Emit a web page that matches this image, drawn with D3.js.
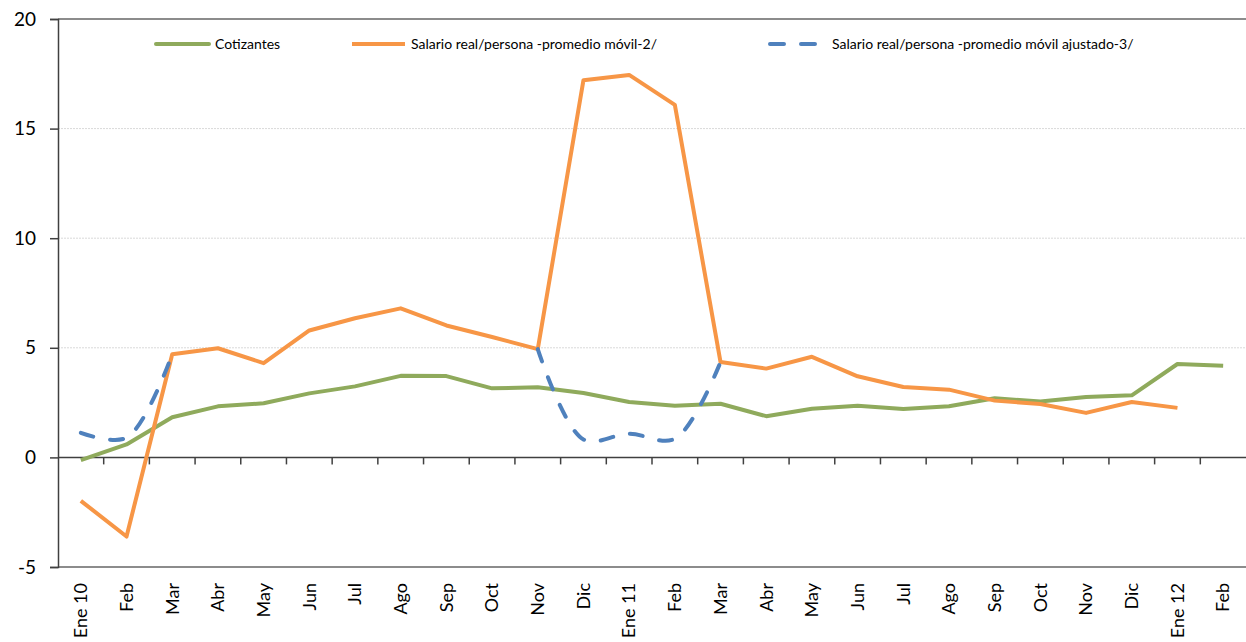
<!DOCTYPE html>
<html>
<head>
<meta charset="utf-8">
<script src="https://cdn.jsdelivr.net/npm/d3@7"></script>
<style>
    body { margin: 0; background: #fff; }
    text { font-family: Lato, "Open Sans", sans-serif; fill: #000; }
</style>
</head>
<body>
<div id="chart"></div>
<script>
// meses (eje x)
var months = ["Ene 10", "Feb", "Mar", "Abr", "May", "Jun", "Jul", "Ago", "Sep", "Oct", "Nov", "Dic",
    "Ene 11", "Feb", "Mar", "Abr", "May", "Jun", "Jul", "Ago", "Sep", "Oct", "Nov", "Dic", "Ene 12", "Feb"];

var cotizantes = [-0.12, 0.59, 1.83, 2.33, 2.47, 2.92, 3.24, 3.72, 3.71, 3.15, 3.2, 2.94,
    2.53, 2.36, 2.45, 1.88, 2.22, 2.36, 2.21, 2.33, 2.7, 2.55, 2.76, 2.83, 4.26, 4.18];

var salarioMovil = [-1.98, -3.61, 4.71, 4.98, 4.3, 5.79, 6.35, 6.8, 6.02, 5.49, 4.94, 17.21,
    17.45, 16.08, 4.35, 4.05, 4.59, 3.7, 3.21, 3.09, 2.59, 2.44, 2.03, 2.53, 2.26, null];

var salarioAjustado = [1.12, 0.9, 4.71, null, null, null, null, null, null, null, 4.94, 0.82,
    1.08, 0.85, 4.35, null, null, null, null, null, null, null, null, null, null, null];

var yTicks = [-5, 0, 5, 10, 15, 20];

var seriesNames = ["Cotizantes", "Salario real/persona -promedio móvil-2/", "Salario real/persona -promedio móvil ajustado-3/"];
var seriesColors = ["#8FAA5C", "#F79646", "#4F81BD"];

var width = 1246;
var height = 642;
// area del grafico
var plotLeft = 58, plotRight = 1246, plotTop = 19, plotBottom = 567;

var svg = d3.select("#chart")
    .append("svg")
    .attr("width", width)
    .attr("height", height);

var x = d3.scaleBand()
    .domain(d3.range(months.length))
    .range([plotLeft, plotRight]);

var y = d3.scaleLinear()
    .domain([-5, 20])
    .range([plotBottom, plotTop]);

function cx(i) {
    return x(i) + x.bandwidth() / 2;
}

// lineas de cuadricula
svg.selectAll(".grid")
    .data(yTicks.filter(function (d) { return d > 0 && d < 20; }))
    .enter().append("line")
    .attr("class", "grid")
    .attr("x1", plotLeft)
    .attr("x2", plotRight)
    .attr("y1", function (d) { return y(d); })
    .attr("y2", function (d) { return y(d); })
    .style("stroke", "#d9d9d9")
    .style("stroke-width", 1)
    .style("stroke-dasharray", "2,1");

// bordes arriba y abajo
svg.append("line")
    .attr("x1", plotLeft).attr("x2", plotRight)
    .attr("y1", y(20)).attr("y2", y(20))
    .style("stroke", "#8c8c8c").style("stroke-width", 2);
svg.append("line")
    .attr("x1", plotLeft).attr("x2", plotRight)
    .attr("y1", y(-5)).attr("y2", y(-5))
    .style("stroke", "#8c8c8c").style("stroke-width", 2);

// eje y
var yAxis = d3.axisLeft(y)
    .tickValues(yTicks)
    .tickSize(8)
    .tickPadding(14)
    .tickFormat(function (d) { return String(d); });

var gy = svg.append("g")
    .attr("transform", "translate(" + plotLeft + ",0)")
    .call(yAxis);
gy.select(".domain").style("stroke", "#404040").style("stroke-width", 1.5);
gy.selectAll(".tick line").style("stroke", "#404040").style("stroke-width", 1.5);
gy.selectAll(".tick text")
    .style("font-size", "19px")
    .style("font-family", "Lato, sans-serif");

// linea del cero con marcas entre meses
svg.append("line")
    .attr("x1", plotLeft).attr("x2", plotRight)
    .attr("y1", y(0)).attr("y2", y(0))
    .style("stroke", "#404040").style("stroke-width", 1.5);

svg.selectAll(".xtick")
    .data(d3.range(1, months.length))
    .enter().append("line")
    .attr("class", "xtick")
    .attr("x1", function (d) { return x(d); })
    .attr("x2", function (d) { return x(d); })
    .attr("y1", y(0))
    .attr("y2", y(0) + 7)
    .style("stroke", "#404040")
    .style("stroke-width", 1.5);

// etiquetas de meses (abajo)
svg.selectAll(".xlabel")
    .data(months)
    .enter().append("text")
    .attr("class", "xlabel")
    .attr("transform", function (d, i) {
        return "translate(" + cx(i) + "," + (plotBottom + 16) + ") rotate(-90)";
    })
    .attr("text-anchor", "end")
    .attr("dy", "0.35em")
    .style("font-size", "18px")
    .text(function (d) { return d; });

// lineas
var line = d3.line()
    .defined(function (d) { return d !== null; })
    .x(function (d, i) { return cx(i); })
    .y(function (d) { return y(d); });

var smooth = d3.line()
    .defined(function (d) { return d !== null; })
    .x(function (d, i) { return cx(i); })
    .y(function (d) { return y(d); })
    .curve(d3.curveCatmullRom.alpha(0.5));

svg.append("path")
    .datum(cotizantes)
    .attr("d", line)
    .style("fill", "none")
    .style("stroke", seriesColors[0])
    .style("stroke-width", 4)
    .style("stroke-linejoin", "round");

svg.append("path")
    .datum(salarioMovil)
    .attr("d", line)
    .style("fill", "none")
    .style("stroke", seriesColors[1])
    .style("stroke-width", 4)
    .style("stroke-linejoin", "round");

svg.append("path")
    .datum(salarioAjustado)
    .attr("d", smooth)
    .style("fill", "none")
    .style("stroke", seriesColors[2])
    .style("stroke-width", 4)
    .style("stroke-linecap", "round")
    .style("stroke-dasharray", "13,17");

// leyenda
var legendX = [156, 352, 770];
var legend = svg.selectAll(".legend")
    .data(seriesNames)
    .enter().append("g")
    .attr("class", "legend")
    .attr("transform", function (d, i) { return "translate(" + legendX[i] + ",44)"; });

legend.append("line")
    .attr("x1", 0)
    .attr("x2", function (d, i) { return i == 2 ? 49 : 53; })
    .attr("y1", 0)
    .attr("y2", 0)
    .style("stroke", function (d, i) { return seriesColors[i]; })
    .style("stroke-width", 4)
    .style("stroke-linecap", function (d, i) { return i == 1 ? "butt" : "round"; })
    .style("stroke-dasharray", function (d, i) { return i == 2 ? "14,17" : null; });

legend.append("text")
    .attr("x", function (d, i) { return i == 2 ? 62 : 59; })
    .attr("y", 0)
    .attr("dy", "0.35em")
    .style("font-size", "14px")
    .text(function (d) { return d; });
</script>
</body>
</html>
